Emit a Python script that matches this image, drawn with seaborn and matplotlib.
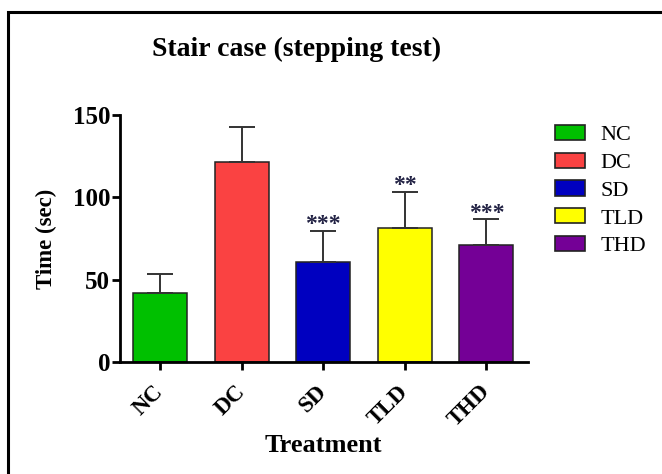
import matplotlib
matplotlib.use("Agg")
import matplotlib.pyplot as plt
import seaborn as sns
import pandas as pd
import numpy as np
from matplotlib.patches import Patch, Rectangle

groups = ["NC", "DC", "SD", "TLD", "THD"]
means = [42, 121.5, 60.8, 81.3, 71]
sem = [11.2, 21.2, 18.7, 22.2, 15.6]
stars = ["", "", "***", "**", "***"]
colors = ["#00C000", "#FA4242", "#0000C0", "#FFFF00", "#740096"]

sns.set_style("white")
plt.rcParams["font.family"] = ["Liberation Serif", "DejaVu Serif"]
for k in ["text.color", "axes.labelcolor", "xtick.color", "ytick.color"]:
    plt.rcParams[k] = "black"

df = pd.DataFrame({"Treatment": groups, "Time": means})

fig = plt.figure(figsize=(6.62, 4.74), dpi=100)
ax = fig.add_axes([0.1813, 0.2363, 0.6163, 0.5211])

sns.barplot(data=df, x="Treatment", y="Time", hue="Treatment", palette=colors,
            width=0.66, edgecolor="#222222", linewidth=1.1, legend=False, ax=ax,
            saturation=1)

x = np.arange(len(groups))
ax.errorbar(x, means, yerr=[np.zeros(len(means)), sem], fmt="none",
            ecolor="#333333", elinewidth=1.4, capsize=9.5, capthick=1.4, zorder=1)
for xi, m, s, st in zip(x, means, sem, stars):
    if st:
        ax.text(xi, m + s + 3.8, st, ha="center", va="center", fontsize=17,
                fontweight="bold", color="#222244")

ax.set_ylim(0, 150)
ax.set_xlim(-0.49, 4.51)
ax.set_yticks([0, 50, 100, 150])
ax.set_yticklabels(["0", "50", "100", "150"], fontsize=18, fontweight="bold")
ax.set_xticks(x)
ax.set_xticklabels(groups, rotation=45, ha="right", va="center",
                   rotation_mode="anchor", fontsize=16.5, fontweight="bold")
ax.tick_params(axis="both", direction="out", length=6, width=2, color="black",
               bottom=True, left=True)
ax.tick_params(axis="x", pad=13)
ax.tick_params(axis="y", pad=1)
for side in ["top", "right"]:
    ax.spines[side].set_visible(False)
for side in ["left", "bottom"]:
    ax.spines[side].set_linewidth(2)
    ax.spines[side].set_color("black")
ax.set_xlabel("")
ax.set_ylabel("Time (sec)", fontsize=16.5, fontweight="bold", labelpad=11)

fig.text(323 / 662, 1 - 446 / 474, "Treatment", ha="center", va="center",
         fontsize=19, fontweight="bold")
fig.text(297 / 662, 1 - 49 / 474, "Stair case (stepping test)", ha="center",
         va="center", fontsize=20, fontweight="bold")

handles = [Patch(facecolor=c, edgecolor="#222222", linewidth=1.2) for c in colors]
leg = fig.legend(handles, groups, loc="upper left",
                 bbox_to_anchor=(546 / 662, 1 - 116 / 474), frameon=False,
                 borderaxespad=0, fontsize=16, handlelength=1.35, handleheight=0.68,
                 labelspacing=0.33, handletextpad=0.7)

fig.patches.append(Rectangle((8 / 662, -0.2), 1.2, 0.2 + 1 - 12 / 474,
                             transform=fig.transFigure, fill=False,
                             edgecolor="black", linewidth=2.2))

fig.savefig("out.png", dpi=100)
